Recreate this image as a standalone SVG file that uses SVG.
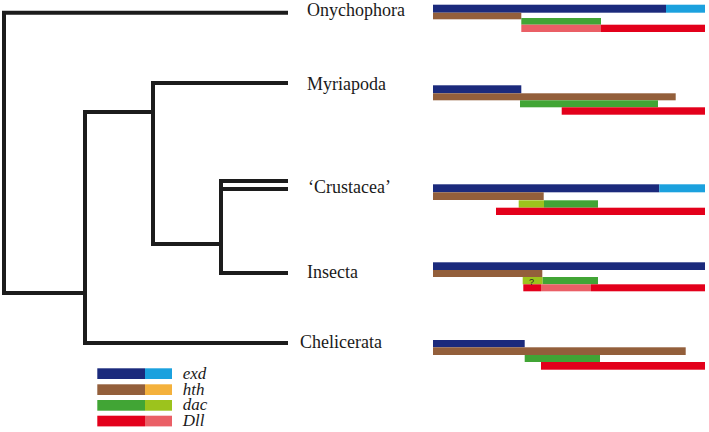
<svg xmlns="http://www.w3.org/2000/svg" width="709" height="432" viewBox="0 0 709 432">
<style>
.br{fill:none;stroke:#1c1c1c;stroke-width:4;stroke-linecap:square;stroke-linejoin:miter}
.lab{font-family:"Liberation Serif","Times New Roman",serif;font-size:18px;fill:#1a1a1a}
.leg{font-family:"Liberation Serif","Times New Roman",serif;font-size:17px;font-style:italic;fill:#1a1a1a}
.exd{fill:#1b2a7c}.exd2{fill:#1ba1de}
.hth{fill:#935f3b}.hth2{fill:#f4b13c}
.dac{fill:#41a535}.dac2{fill:#9cc31d}
.dll{fill:#e3001b}.dll2{fill:#ea5f66}
.q{font-family:"Liberation Sans",Arial,sans-serif;font-size:9px;fill:#222}
</style>
<g id="connectors">
<path class="br" d="M286,12.7 H4 V293 H85"/>
<path class="br" d="M153,112 H85 V343 H286"/>
<path class="br" d="M286,83 H153 V244 H221"/>
<path class="br" d="M286,181 H221 V273 H286"/>
<path class="br" d="M221,189 H286"/>
</g>
<g id="onychophora">
<text class="lab" x="307" y="16">Onychophora</text>
<rect class="exd" x="433" y="4.7" width="233" height="8"/>
<rect class="exd2" x="666" y="4.7" width="39" height="8"/>
<rect class="hth" x="433" y="12.7" width="88.3" height="6.6"/>
<rect class="dac" x="521.3" y="18" width="79.7" height="6.7"/>
<rect class="dll2" x="521.3" y="24.7" width="79.7" height="7.3"/>
<rect class="dll" x="601" y="24.7" width="104" height="7.3"/>
</g>
<g id="myriapoda">
<text class="lab" x="307" y="90">Myriapoda</text>
<rect class="exd" x="433" y="85.3" width="88.3" height="8"/>
<rect class="hth" x="433" y="93.3" width="242.7" height="7"/>
<rect class="dac" x="520" y="100.3" width="138" height="7"/>
<rect class="dll" x="561.7" y="107.3" width="143.3" height="7.4"/>
</g>
<g id="crustacea">
<text class="lab" x="308" y="193">‘Crustacea’</text>
<rect class="exd" x="433" y="184.3" width="226.3" height="8"/>
<rect class="exd2" x="659.3" y="184.3" width="45.7" height="8"/>
<rect class="hth" x="433" y="192.3" width="110.7" height="7.7"/>
<rect class="dac2" x="518.7" y="200.3" width="25.3" height="7.4"/>
<rect class="dac" x="544" y="200.3" width="54" height="7.4"/>
<rect class="dll" x="496" y="207.7" width="209" height="7.3"/>
</g>
<g id="insecta">
<text class="lab" x="307" y="278">Insecta</text>
<rect class="exd" x="433" y="262.3" width="272" height="7.7"/>
<rect class="hth" x="433" y="270" width="109.3" height="7"/>
<rect class="dac2" x="522.7" y="277" width="20" height="7.3"/>
<rect class="dac" x="542.7" y="277" width="55.3" height="7.3"/>
<rect class="dll" x="523.3" y="284.3" width="17.7" height="7"/>
<rect class="dll2" x="541" y="284.3" width="50" height="7"/>
<rect class="dll" x="591" y="284.3" width="114" height="7"/>
<text class="q" x="529" y="285">?</text>
</g>
<g id="chelicerata">
<text class="lab" x="300" y="348">Chelicerata</text>
<rect class="exd" x="433" y="340" width="91.7" height="7.3"/>
<rect class="hth" x="433" y="347.3" width="252.7" height="7.7"/>
<rect class="dac" x="524.7" y="355" width="75.3" height="7"/>
<rect class="dll" x="541" y="362" width="164" height="7.7"/>
</g>
<g id="legend">
<rect class="exd" x="97.3" y="368.3" width="47.7" height="10.7"/>
<rect class="exd2" x="145" y="368.3" width="27" height="10.7"/>
<rect class="hth" x="97.3" y="384.3" width="47.7" height="10.7"/>
<rect class="hth2" x="145" y="384.3" width="27" height="10.7"/>
<rect class="dac" x="97.3" y="400" width="47.7" height="10.7"/>
<rect class="dac2" x="145" y="400" width="27" height="10.7"/>
<rect class="dll" x="97.3" y="415.7" width="47.7" height="10.7"/>
<rect class="dll2" x="145" y="415.7" width="27" height="10.7"/>
<text class="leg" x="182.7" y="378.5">exd</text>
<text class="leg" x="182.7" y="394.5">hth</text>
<text class="leg" x="182.7" y="410">dac</text>
<text class="leg" x="182.7" y="425.5">Dll</text>
</g>
</svg>
